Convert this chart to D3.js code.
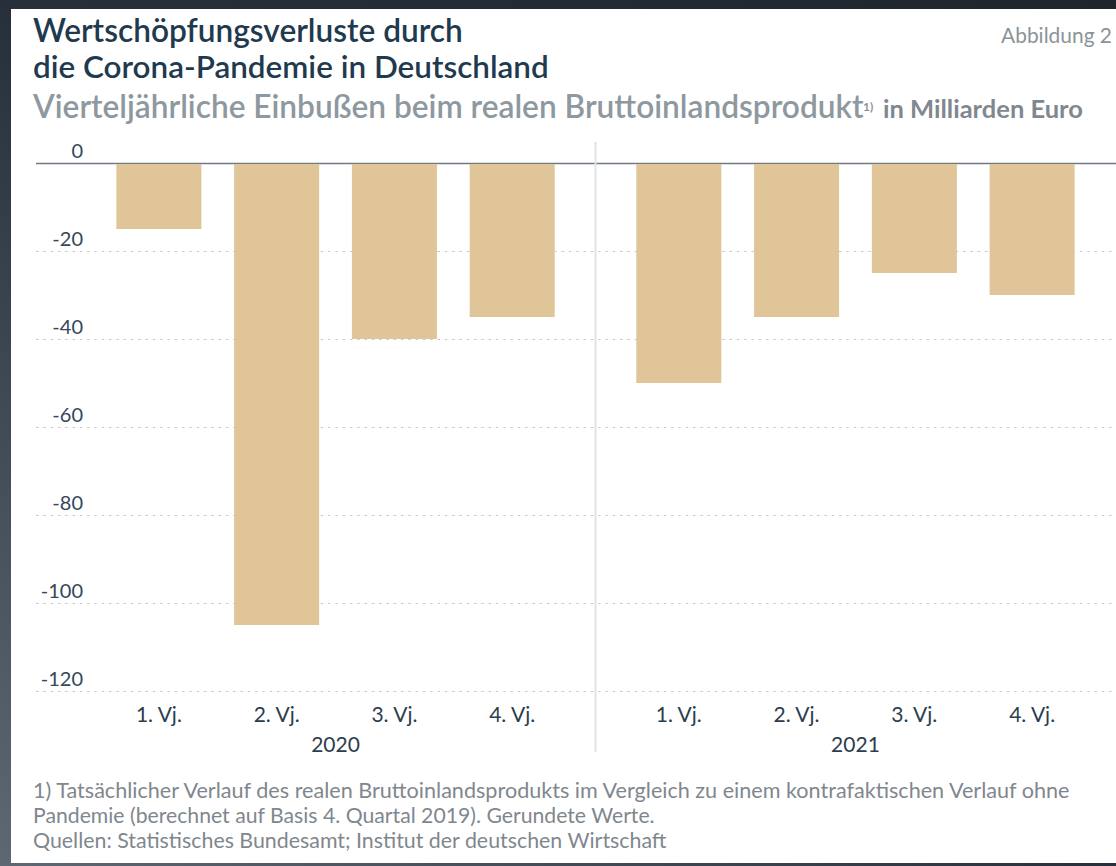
<!DOCTYPE html>
<html>
<head>
<meta charset="utf-8">
<script src="https://cdn.jsdelivr.net/npm/d3@7"></script>
<style>
  html, body { margin: 0; padding: 0; }
  body { width: 1116px; height: 866px; overflow: hidden; background: #222930; }
  text { font-family: Lato, "Open Sans", sans-serif; }
</style>
</head>
<body>
<div id="chart"></div>
<script>
// Data
const years = ["2020", "2021"];
const quarters = ["1. Vj.", "2. Vj.", "3. Vj.", "4. Vj."];
const values2020 = [-15, -105, -40, -35];
const values2021 = [-50, -35, -25, -30];
const yTicks = [0, -20, -40, -60, -80, -100, -120];
const footnotes = [
  "1) Tatsächlicher Verlauf des realen Bruttoinlandsprodukts im Vergleich zu einem kontrafaktischen Verlauf ohne",
  "Pandemie (berechnet auf Basis 4. Quartal 2019). Gerundete Werte.",
  "Quellen: Statistisches Bundesamt; Institut der deutschen Wirtschaft"
];

const dataset = years.flatMap((yr, i) =>
  quarters.map((q, j) => ({ year: yr, quarter: q, value: [values2020, values2021][i][j] }))
);

const w = 1116;
const h = 866;

const svg = d3.select("#chart")
  .append("svg")
  .attr("width", w)
  .attr("height", h);

// background gradient + white card
const defs = svg.append("defs");
const grad = defs.append("linearGradient")
  .attr("id", "bg")
  .attr("x1", "1").attr("y1", "0")
  .attr("x2", "0").attr("y2", "1");
grad.append("stop").attr("offset", "0").attr("stop-color", "#1e252d");
grad.append("stop").attr("offset", "0.5").attr("stop-color", "#27303a");
grad.append("stop").attr("offset", "1").attr("stop-color", "#5d6873");

svg.append("rect").attr("width", w).attr("height", h).attr("fill", "url(#bg)");
svg.append("rect")
  .attr("x", 11).attr("y", 9)
  .attr("width", w - 11).attr("height", 854)
  .attr("fill", "#ffffff");

// shrink/grow a text so it has a given width
function fit(sel, target) {
  const len = sel.node().getComputedTextLength();
  const fs = parseFloat(sel.attr("font-size"));
  sel.attr("font-size", fs * target / len);
  return sel;
}

// Titles
fit(svg.append("text")
  .attr("x", 33).attr("y", 42)
  .attr("font-size", 29).attr("font-weight", 600)
  .attr("fill", "#1f3a4f")
  .text("Wertschöpfungsverluste durch"), 430);

fit(svg.append("text")
  .attr("x", 33).attr("y", 78)
  .attr("font-size", 29).attr("font-weight", 600)
  .attr("fill", "#1f3a4f")
  .text("die Corona-Pandemie in Deutschland"), 516);

fit(svg.append("text")
  .attr("x", 1112).attr("y", 43)
  .attr("text-anchor", "end")
  .attr("font-size", 19)
  .attr("fill", "#8b9399")
  .text("Abbildung 2"), 111);

fit(svg.append("text")
  .attr("x", 33).attr("y", 118)
  .attr("font-size", 25).attr("font-weight", 600)
  .attr("fill", "#8e989f")
  .text("Vierteljährliche Einbußen beim realen Bruttoinlandsprodukt"), 831);

svg.append("text")
  .attr("x", 863).attr("y", 111)
  .attr("font-size", 12).attr("font-weight", 600)
  .attr("fill", "#7f888f")
  .text("1)");

fit(svg.append("text")
  .attr("x", 883).attr("y", 118)
  .attr("font-size", 19).attr("font-weight", 700)
  .attr("fill", "#7f888f")
  .text("in Milliarden Euro"), 200);

// Scales
const xYear = d3.scaleBand()
  .domain(years)
  .range([100, 1091])
  .paddingInner(0.094);

const xQuarter = d3.scaleBand()
  .domain(quarters)
  .range([0, xYear.bandwidth()])
  .paddingInner(0.278)
  .paddingOuter(0.139);

const y = d3.scaleLinear()
  .domain([-120, 0])
  .range([691, 163]);

// y axis with gridlines
const yAxis = d3.axisLeft(y)
  .tickValues(yTicks)
  .tickSize(-(w - 36))
  .tickFormat(d3.format("d"));

const gy = svg.append("g")
  .attr("id", "y-axis")
  .attr("transform", "translate(36, 0)")
  .call(yAxis);

gy.select(".domain").remove();
gy.selectAll(".tick line")
  .attr("stroke", d => (d === 0 ? "#6f7a83" : "#c5cbd0"))
  .attr("stroke-width", d => (d === 0 ? 1.6 : 1.2))
  .attr("stroke-dasharray", d => (d === 0 ? null : "2.5,4.8"));
gy.selectAll(".tick text")
  .attr("x", 47)
  .attr("y", 0)
  .attr("dy", -6)
  .attr("text-anchor", "end")
  .attr("font-family", "Lato, 'Open Sans', sans-serif")
  .attr("font-size", 20)
  .attr("fill", "#34485a")
  .text(d => (d === 0 ? "0" : "-" + Math.abs(d)));

// separator between years
const sepX = (xYear("2020") + xYear.bandwidth() + xYear("2021")) / 2;
svg.append("line")
  .attr("x1", sepX).attr("x2", sepX)
  .attr("y1", 142).attr("y2", 752)
  .attr("stroke", "#dfe3e6")
  .attr("stroke-width", 2);

// bars
svg.selectAll("rect.bar")
  .data(dataset)
  .enter()
  .append("rect")
  .attr("class", "bar")
  .attr("x", d => xYear(d.year) + xQuarter(d.quarter))
  .attr("y", y(0) + 1)
  .attr("width", xQuarter.bandwidth())
  .attr("height", d => y(d.value) - y(0) - 1)
  .attr("fill", "#dfc597");

// quarter labels
svg.selectAll("text.quarter")
  .data(dataset)
  .enter()
  .append("text")
  .attr("class", "quarter")
  .attr("x", d => xYear(d.year) + xQuarter(d.quarter) + xQuarter.bandwidth() / 2)
  .attr("y", 722)
  .attr("text-anchor", "middle")
  .attr("font-size", 21)
  .attr("fill", "#2c3d4d")
  .text(d => d.quarter);

// year labels
svg.selectAll("text.year")
  .data(years)
  .enter()
  .append("text")
  .attr("class", "year")
  .attr("x", d => xYear(d) + xYear.bandwidth() / 2)
  .attr("y", 752)
  .attr("text-anchor", "middle")
  .attr("font-size", 21)
  .attr("fill", "#2c3d4d")
  .text(d => d);

// footnotes
const footWidths = [1037, 622, 634];
footnotes.forEach((t, i) => {
  fit(svg.append("text")
    .attr("x", 33)
    .attr("y", 798 + i * 25)
    .attr("font-size", 18)
    .attr("fill", "#7f878e")
    .text(t), footWidths[i]);
});
</script>
</body>
</html>
